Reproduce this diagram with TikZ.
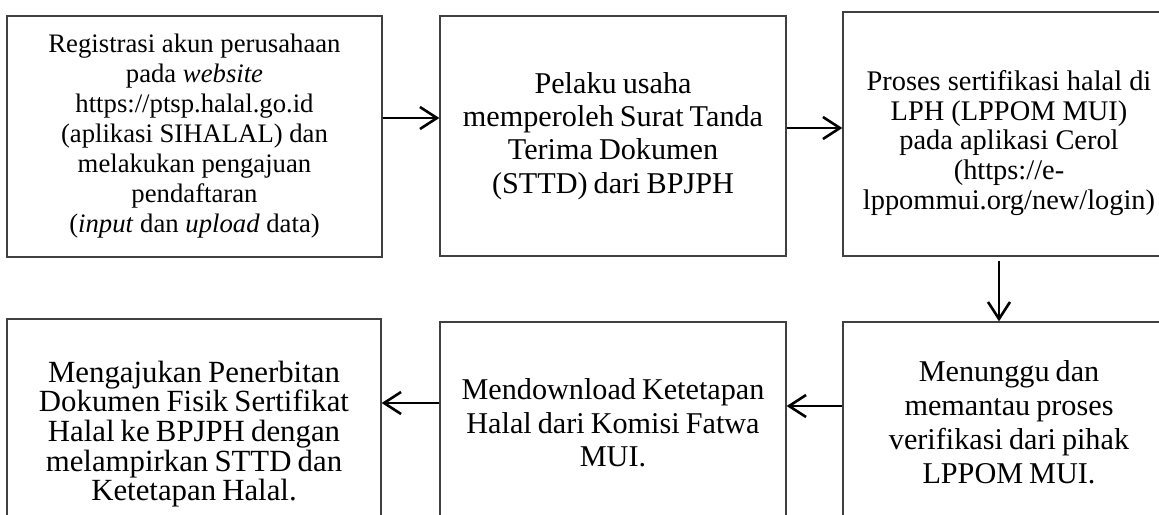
\documentclass[tikz,border=0pt]{standalone}
\usepackage{fontspec}
\setmainfont{Liberation Serif}
\usetikzlibrary{arrows.meta}
\newcommand{\tightsp}{\spaceskip=0.2em plus 0.05em\relax}
\tikzset{
  stepbox/.style={draw=black!75, line width=1.3pt, inner sep=0pt, align=center},
  flow/.style={draw=black, line width=2.6pt, -{Straight Barb[length=17pt,width=22pt]}}
}
\begin{document}
\begin{tikzpicture}[x=1pt,y=-1pt]
\useasboundingbox (0,0) rectangle (1159,514);
\clip (0,0) rectangle (1159,514);
\node[stepbox, minimum width=375pt, minimum height=241pt, font=\fontsize{26.7pt}{30pt}\selectfont] (b1) at (194.5,136.5)
 {Registrasi akun perusahaan\\pada \textit{website}\\https://ptsp.halal.go.id\\(aplikasi SIHALAL) dan\\melakukan pengajuan\\pendaftaran\\(\textit{input} dan \textit{upload} data)};
\node[stepbox, minimum width=346pt, minimum height=240pt, font=\fontsize{30.2pt}{33.3pt}\selectfont\tightsp] (b2) at (613,136)
 {Pelaku usaha\\memperoleh Surat Tanda\\Terima Dokumen\\(STTD) dari BPJPH};
\node[stepbox, minimum width=332pt, minimum height=244pt, font=\fontsize{28.4pt}{29.6pt}\selectfont] (b3) at (1009,134)
 {\raisebox{-10pt}[\height][\depth]{\begin{tabular}{@{}c@{}}Proses sertifikasi halal di\\LPH (LPPOM MUI)\\pada aplikasi Cerol\\(https://e-\\lppommui.org/new/login)\end{tabular}}};
\node[stepbox, minimum width=332pt, minimum height=200pt, font=\fontsize{30.2pt}{34pt}\selectfont\tightsp] (b4) at (1009,422)
 {Menunggu dan\\memantau proses\\verifikasi dari pihak\\LPPOM MUI.};
\node[stepbox, minimum width=346pt, minimum height=202pt, font=\fontsize{30.2pt}{33.3pt}\selectfont\tightsp] (b5) at (613,423)
 {Mendownload Ketetapan\\Halal dari Komisi Fatwa\\MUI.};
\node[stepbox, minimum width=374pt, minimum height=230pt, font=\fontsize{30.8pt}{29.6pt}\selectfont\tightsp] (b6) at (194,434)
 {Mengajukan Penerbitan\\Dokumen Fisik Sertifikat\\Halal ke BPJPH dengan\\melampirkan STTD dan\\Ketetapan Halal.};
\coordinate (a1) at ([yshift=18.5pt]b1.east);
\draw[flow] (a1) -- (a1 -| b2.west);
\coordinate (a2) at ([yshift=8pt]b2.east);
\draw[flow] (a2) -- (a2 -| b3.west);
\coordinate (a3) at ([xshift=-10pt,yshift=-4pt]b3.south);
\draw[flow] (a3) -- (a3 |- b4.north);
\coordinate (a4) at ([yshift=16pt]b4.west);
\draw[flow] (a4) -- (a4 -| b5.east);
\coordinate (a5) at ([yshift=20pt]b5.west);
\draw[flow] (a5) -- (a5 -| b6.east);
\end{tikzpicture}
\end{document}
